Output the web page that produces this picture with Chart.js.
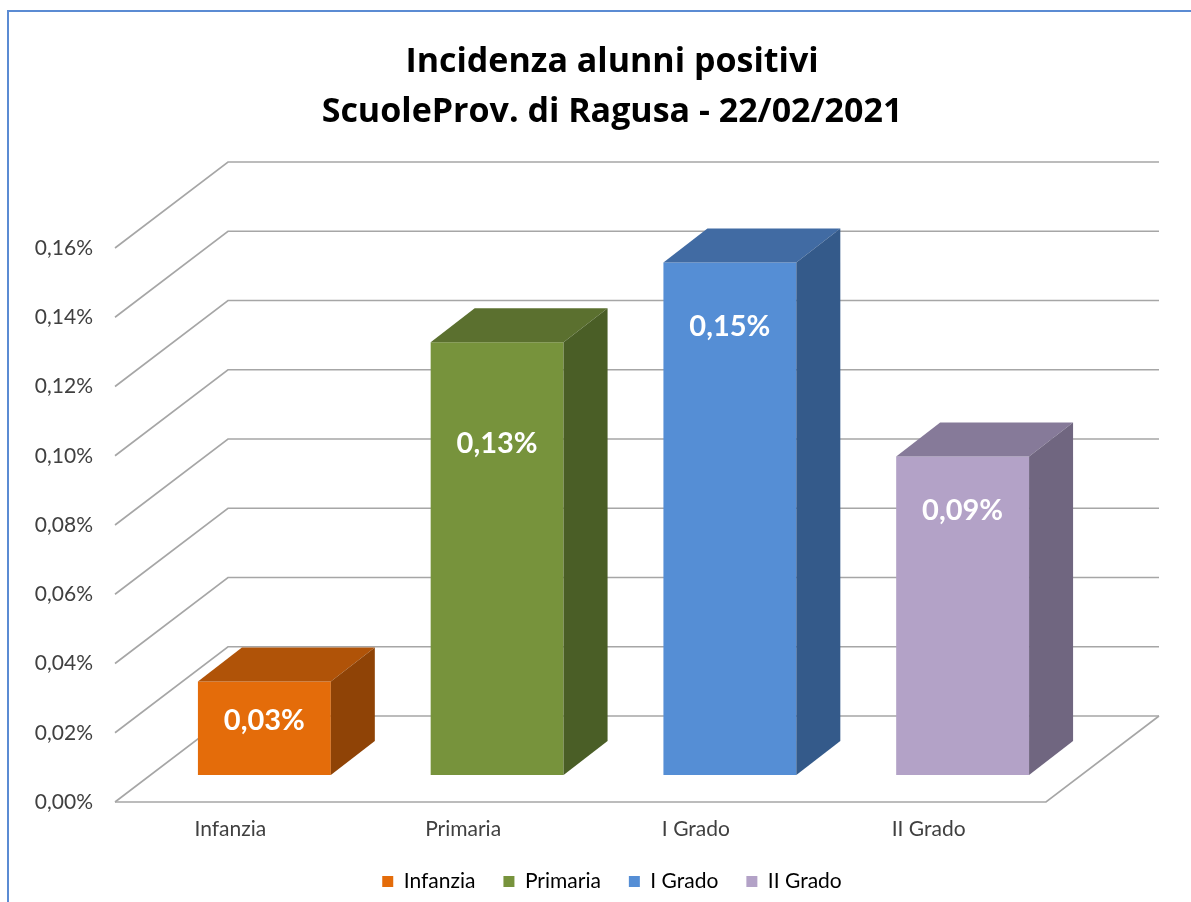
<!DOCTYPE html>
<html lang="it">
<head>
<meta charset="utf-8" />
<title>Incidenza alunni positivi</title>
<style>
  html, body { margin: 0; padding: 0; background: #fff; }
  canvas { display: block; }
</style>
<script src="https://cdn.jsdelivr.net/npm/chart.js@4.4.1/dist/chart.umd.min.js"></script>
</head>
<body>
<canvas id="chart" width="1191" height="902"></canvas>
<script>
// data (values in %)
var categories = ["Infanzia", "Primaria", "I Grado", "II Grado"];
var incidenza = [0.027, 0.125, 0.148, 0.092];
var yTicks = [0, 0.02, 0.04, 0.06, 0.08, 0.10, 0.12, 0.14, 0.16];

// colours: front face, top face, side face
var fronts = ["#e46c0a", "#77933c", "#558ed5", "#b3a2c7"];
var tops = ["#b05308", "#5b702f", "#416ba3", "#867a99"];
var sides = ["#8f4306", "#4a5e26", "#345a8a", "#706680"];

// 3D look: offsets of floor front edge / back wall / bar depth from the bar plane
var FRONT = { x: -33, y: 27 };
var BACK = { x: 80, y: -59 };
var DEPTH = { x: 44, y: -34 };
var labelDrop = [39, 101, 64, 54];

var FONT = "Lato, 'Open Sans', sans-serif";

function pct(v) {
  return v.toFixed(2).replace(".", ",") + "%";
}

var frame3d = {
  id: "frame3d",
  beforeDraw: function (chart) {
    var ctx = chart.ctx;
    ctx.save();
    ctx.fillStyle = "#ffffff";
    ctx.fillRect(0, 0, chart.width, chart.height);
    ctx.strokeStyle = "#5b8bd3";
    ctx.lineWidth = 2;
    ctx.beginPath();
    ctx.moveTo(8, chart.height);
    ctx.lineTo(8, 11);
    ctx.lineTo(chart.width, 11);
    ctx.stroke();
    ctx.restore();
  },
  beforeDatasetsDraw: function (chart) {
    var ctx = chart.ctx;
    var area = chart.chartArea;
    var ys = chart.scales.y;
    ctx.save();
    ctx.strokeStyle = "#a6a6a6";
    ctx.lineWidth = 1.6;
    yTicks.forEach(function (v) {
      var y = ys.getPixelForValue(v);
      ctx.beginPath();
      ctx.moveTo(area.left + FRONT.x, y + FRONT.y);
      ctx.lineTo(area.left + BACK.x, y + BACK.y);
      ctx.lineTo(area.right + BACK.x, y + BACK.y);
      ctx.stroke();
    });
    // floor edges
    var y0 = ys.getPixelForValue(0);
    ctx.beginPath();
    ctx.moveTo(area.left + FRONT.x, y0 + FRONT.y);
    ctx.lineTo(area.right + FRONT.x, y0 + FRONT.y);
    ctx.lineTo(area.right + BACK.x, y0 + BACK.y);
    ctx.stroke();
    ctx.restore();
  },
  afterDatasetsDraw: function (chart) {
    var ctx = chart.ctx;
    var meta = chart.getDatasetMeta(0);
    ctx.save();
    meta.data.forEach(function (bar, i) {
      var p = bar.getProps(["x", "y", "base", "width"], true);
      var l = p.x - p.width / 2;
      var r = p.x + p.width / 2;
      // top face
      ctx.fillStyle = tops[i];
      ctx.beginPath();
      ctx.moveTo(l, p.y);
      ctx.lineTo(l + DEPTH.x, p.y + DEPTH.y);
      ctx.lineTo(r + DEPTH.x, p.y + DEPTH.y);
      ctx.lineTo(r, p.y);
      ctx.closePath();
      ctx.fill();
      // side face
      ctx.fillStyle = sides[i];
      ctx.beginPath();
      ctx.moveTo(r, p.y);
      ctx.lineTo(r + DEPTH.x, p.y + DEPTH.y);
      ctx.lineTo(r + DEPTH.x, p.base + DEPTH.y);
      ctx.lineTo(r, p.base);
      ctx.closePath();
      ctx.fill();
      // value label
      ctx.fillStyle = "#ffffff";
      ctx.font = "bold 29px " + FONT;
      ctx.textAlign = "center";
      ctx.textBaseline = "middle";
      ctx.fillText(pct(incidenza[i]), p.x, p.y + labelDrop[i]);
    });
    ctx.restore();
  }
};

var ctx = document.getElementById("chart").getContext("2d");
var chart = new Chart(ctx, {
  type: "bar",
  data: {
    labels: categories,
    datasets: [
      {
        label: "Incidenza",
        data: incidenza,
        backgroundColor: fronts,
        borderWidth: 0,
        categoryPercentage: 1,
        barPercentage: 0.571
      }
    ]
  },
  options: {
    responsive: false,
    animation: false,
    layout: { padding: { left: 33, right: 0, top: 0, bottom: 0 } },
    plugins: {
      title: {
        display: true,
        text: ["Incidenza alunni positivi", "ScuoleProv. di Ragusa - 22/02/2021"],
        color: "#000000",
        font: { family: "'Open Sans', Lato, sans-serif", size: 34, weight: "bold", lineHeight: 50 / 34 },
        padding: { top: 37, bottom: 84 }
      },
      legend: {
        position: "bottom",
        labels: {
          color: "#595959",
          font: { family: FONT, size: 21 },
          boxWidth: 11,
          boxHeight: 11,
          padding: 28,
          generateLabels: function () {
            return categories.map(function (c, i) {
              return {
                text: c,
                fillStyle: fronts[i],
                strokeStyle: fronts[i],
                lineWidth: 0,
                index: i
              };
            });
          }
        }
      },
      tooltip: { enabled: false }
    },
    scales: {
      x: {
        grid: { display: false, drawTicks: false },
        border: { display: false },
        ticks: {
          color: "#404040",
          font: { family: FONT, size: 21 },
          padding: 42,
          labelOffset: -34
        },
        afterFit: function (s) { s.height = 68; }
      },
      y: {
        min: 0,
        max: 0.16,
        grid: { display: false, drawTicks: false },
        border: { display: false },
        ticks: {
          stepSize: 0.02,
          color: "#404040",
          font: { family: FONT, size: 21 },
          padding: 55,
          labelOffset: 27,
          callback: function (v) { return pct(v); }
        },
        afterFit: function (s) { s.width = 115; }
      },
      // empty right strip where the 3D back wall sticks out
      yRight: {
        position: "right",
        grid: { display: false, drawTicks: false },
        border: { display: false },
        ticks: { display: false },
        afterFit: function (s) { s.width = 112; }
      }
    }
  },
  plugins: [frame3d]
});
</script>
</body>
</html>
